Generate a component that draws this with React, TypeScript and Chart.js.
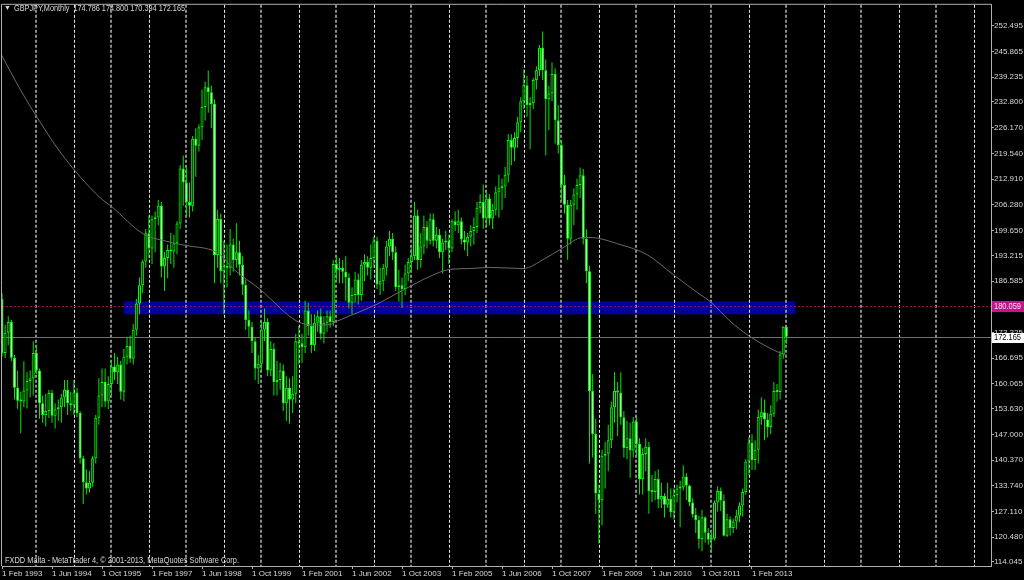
import React, { useEffect, useRef } from "react";
import { Chart, registerables } from "chart.js";

Chart.register(...registerables);

// ---- DATA (GBPJPY monthly, first bar = Feb 1993, index 0) ----
const opens = [
  182, 168, 173.2, 176, 166.8, 159, 155.7, 155.5, 158.3, 160.8, 161.5,
  168, 163.5, 155, 152, 153, 157.7, 151.8, 153.5, 154, 156.5, 158.5, 155,
  154.5, 157.8, 152.5, 140.8, 134.6, 133, 134.5, 140.8, 151.3, 157, 160.5, 155.5,
  160, 164.5, 163, 165, 158, 167, 169.8, 166.5, 174, 180.8, 185.5, 191.6,
  198.9, 195, 202.5, 203, 206, 190.3, 192.5, 194.6, 194.2, 196.3, 201.4, 215.6,
  212, 207, 206, 223.3, 221.5, 226.3, 231.5, 236.6, 235.3, 232.3, 193.3, 202.6,
  189.1, 190.5, 190, 196, 192, 194, 190.8, 185.6, 176.5, 174.8, 171, 164,
  165.2, 174, 176, 163.5, 169, 160.5, 161, 163.5, 155, 159, 156, 157.5,
  171, 170.5, 169.5, 179, 175, 170, 175.8, 177.5, 173, 175.8, 177.5, 176,
  191, 189.5, 190, 189, 187.5, 181, 183, 187, 183, 190.8, 191.5, 190,
  192.5, 197, 185.7, 186.5, 190, 195.5, 197.5, 194, 185, 185.5, 184.5, 188.5,
  191.5, 193, 203.5, 192, 195.5, 200.5, 197, 202.5, 197, 198.5, 194, 196.5,
  197, 195, 202, 201, 202, 197.3, 196.5, 198, 199.5, 200.5, 205.5, 207,
  202.7, 207.9, 202.7, 205, 209.5, 210.5, 211, 214, 223, 221, 223.5, 227.6,
  233, 237.1, 232, 232.5, 238.5, 241, 246.8, 241, 233.5, 235, 240, 228.1,
  221.7, 211.4, 206.3, 197.5, 206.3, 208.9, 211.4, 213.9, 197.5, 189.1, 158.2, 147.1,
  131.7, 130, 141.5, 142, 145.5, 154, 158.2, 157.8, 151.4, 143.5, 146, 142.8,
  150.3, 144.5, 135.5, 141.9, 143.8, 132.4, 132.1, 135.5, 130.2, 131.1, 128.8, 130.4,
  126.9, 131.3, 133, 133.3, 136.1, 133.8, 129.4, 126.3, 124.9, 120, 125.6, 121.6,
  119.8, 120.1, 129.4, 132.4, 129.9, 120.8, 125.1, 122.8, 124.5, 126, 128.6, 132.1,
  140, 144.9, 140.4, 143, 151.5, 152.7, 150.8, 148.9, 152.3, 158.2, 157.9, 167.6,
  174.786,
];
const highs = [
  183.5, 175.3, 177.5, 176.5, 167.5, 163.4, 158, 165.9, 163, 163.5, 171,
  170, 164, 157, 157.5, 158.5, 158.5, 155, 156, 157.5, 161, 161, 158,
  161, 159, 153, 141.5, 138, 137.5, 141.5, 152, 161.5, 164, 164, 162,
  166, 168, 167, 166, 169, 172, 172.5, 175.5, 182, 187.5, 192.1, 200,
  203.5, 203.5, 204.5, 207.5, 207, 194, 196, 199, 198.5, 202, 216.5, 219,
  216, 212, 224, 226, 227, 236, 238, 240.9, 237, 233.5, 205, 204,
  197, 196, 200, 197.5, 201.5, 197, 193, 187, 179, 176, 172, 167.5,
  176, 179.5, 177, 171, 170.5, 166, 165.5, 165, 162, 161.5, 162, 173,
  175, 173, 181.5, 181, 178, 178, 179, 179.5, 177.5, 179, 179, 192,
  193, 192.5, 192, 193, 188.5, 185, 189, 188.5, 192, 193.5, 193, 196,
  198, 198, 190, 191, 197, 199.5, 199, 195.5, 189.5, 187.5, 190.8, 192.5,
  195, 207, 205, 199, 203.5, 202, 204, 204, 200.5, 200, 197.5, 199.5,
  198.5, 202.5, 204.5, 205, 203, 199.5, 199, 201, 203, 207, 209, 211.5,
  209.5, 209, 206.5, 211, 214, 213, 216, 224.5, 224.5, 225, 229, 234,
  241.2, 239.5, 234, 239, 242, 247.5, 251, 243.8, 237, 243, 241.5, 232,
  223, 214, 207.5, 207.5, 210.5, 213, 215.9, 215.5, 200, 190.5, 162.5, 151,
  134, 143, 145, 149.5, 155.5, 163, 160.5, 163, 153, 150.5, 150, 151.5,
  151.5, 146, 143.5, 146, 145, 136.5, 137.5, 138, 134.5, 131.8, 134.5, 133,
  133, 134, 135, 139, 137, 134, 130.5, 128, 126, 127.5, 125.8, 122.8,
  121.5, 130, 133.6, 133.3, 131.5, 126.5, 125.8, 125.2, 127.5, 129.5, 133, 140.5,
  146.3, 147, 145.5, 153.4, 156.5, 156, 152.5, 154.5, 160.5, 160, 168.5, 174.9,
  174.8,
];
const lows = [
  167, 166.7, 170, 165.9, 156, 153.6, 147.3, 154, 153.7, 156.5, 157,
  162.5, 151, 150, 149, 151.2, 150, 148.5, 150.5, 150, 154, 152, 153,
  152, 151.5, 139.5, 129, 131.5, 132, 133.5, 139.5, 149.5, 154, 154, 153.5,
  157, 161, 160, 156, 155.5, 165, 165.5, 165, 172.5, 178, 183.5, 190,
  192.5, 191, 194, 201, 187.5, 184, 187.3, 191, 190, 193.5, 200, 206,
  203.4, 203, 204.5, 213.5, 220, 223, 228, 230, 226, 186, 190, 186,
  178, 185, 188, 189, 190, 188, 183, 174, 172, 168, 161, 160,
  163, 171, 162, 162, 157, 157, 158.5, 153, 150.5, 149.8, 152.5, 155,
  165, 165.5, 168, 172.5, 168, 168.5, 173.5, 171.5, 170.5, 173.5, 174.5, 175,
  187, 186, 186, 181.5, 179.5, 178, 181, 180.5, 181.5, 186.5, 188, 187,
  190, 184.5, 183, 184, 188, 193, 192, 184, 181.3, 179.6, 183, 186.5,
  189, 192, 189.5, 190, 193.5, 195, 196, 195.5, 195, 192.5, 188.5, 194.5,
  191, 194, 199.5, 199, 196, 194.5, 193, 195.5, 196, 199, 204, 200.1,
  200.5, 201, 200, 203.5, 203, 205, 208, 212, 216.5, 217.5, 221, 225,
  231, 229, 220.6, 231, 236, 239.5, 238.5, 219, 225.5, 233, 222, 219.5,
  207.5, 204, 192.1, 196, 201, 205, 208, 196, 186, 139.5, 141, 126.5,
  118.8, 123.5, 133, 137.5, 143.5, 150, 146.5, 149.5, 141, 140.5, 135.8, 141,
  141.5, 131.5, 131.5, 137.5, 126.5, 129.5, 130, 128, 128, 125.5, 128, 125.5,
  125, 129.5, 123, 132.5, 130, 128.5, 125.5, 121.5, 117.5, 116.8, 119, 118.5,
  116.9, 119.6, 127, 127.2, 120.6, 120.5, 120.8, 121.5, 122.5, 124.3, 125.8, 131.5,
  136.5, 137.8, 137.8, 139.5, 149.5, 145.5, 146.2, 147, 151.5, 155.5, 156, 166.5,
  170.394,
];
const closes = [
  168, 173.2, 176, 166.8, 159, 155.7, 155.5, 158.3, 160.8, 161.5, 168,
  163.5, 155, 152, 153, 157.7, 151.8, 153.5, 154, 156.5, 158.5, 155, 154.5,
  157.8, 152.5, 140.8, 134.6, 133, 134.5, 140.8, 151.3, 157, 160.5, 155.5, 160,
  164.5, 163, 165, 158, 167, 169.8, 166.5, 174, 180.8, 185.5, 191.6, 198.9,
  195, 202.5, 203, 206, 190.3, 192.5, 194.6, 194.2, 196.3, 201.4, 215.6, 212,
  207, 206, 223.3, 221.5, 226.3, 231.5, 236.6, 235.3, 232.3, 193.3, 202.6, 189.1,
  190.5, 190, 196, 192, 194, 190.8, 185.6, 176.5, 174.8, 171, 164, 165.2,
  174, 176, 163.5, 169, 160.5, 161, 163.5, 155, 159, 156, 157.5, 171,
  170.5, 169.5, 179, 175, 170, 175.8, 177.5, 173, 175.8, 177.5, 176, 191,
  189.5, 190, 189, 187.5, 181, 183, 187, 183, 190.8, 191.5, 190, 192.5,
  197, 185.7, 186.5, 190, 195.5, 197.5, 194, 185, 185.5, 184.5, 188.5, 191.5,
  193, 203.5, 192, 195.5, 200.5, 197, 202.5, 197, 198.5, 194, 196.5, 197,
  195, 202, 201, 202, 197.3, 196.5, 198, 199.5, 200.5, 205.5, 207, 202.7,
  207.9, 202.7, 205, 209.5, 210.5, 211, 214, 223, 221, 223.5, 227.6, 233,
  237.1, 232, 232.5, 238.5, 241, 246.8, 241, 233.5, 235, 240, 228.1, 221.7,
  211.4, 206.3, 197.5, 206.3, 208.9, 211.4, 213.9, 197.5, 189.1, 158.2, 147.1, 131.7,
  130, 141.5, 142, 145.5, 154, 158.2, 157.8, 151.4, 143.5, 146, 142.8, 150.3,
  144.5, 135.5, 141.9, 143.8, 132.4, 132.1, 135.5, 130.2, 131.1, 128.8, 130.4, 126.9,
  131.3, 133, 133.3, 136.1, 133.8, 129.4, 126.3, 124.9, 120, 125.6, 121.6, 119.8,
  120.1, 129.4, 132.4, 129.9, 120.8, 125.1, 122.8, 124.5, 126, 128.6, 132.1, 140,
  144.9, 140.4, 143, 151.5, 152.7, 150.8, 148.9, 152.3, 158.2, 157.9, 167.6, 174.8,
  172.165,
];

// moving average, bar index -> price
const maIndex = [-0.6, 6, 12.2, 18.6, 25, 31.4, 35.2, 45.1, 52.8, 59.2, 66.6, 69.8, 73.9, 82.6, 94.4, 100.2, 105, 107.2, 120, 126.4, 130.6, 137, 143.4, 149.8, 156.2, 166.7, 173.8, 179.2, 185.9, 188.2, 197.8, 206.4, 214.7, 223.4, 226.6, 233, 238.7, 249, 251];
const maValue = [245.6, 235.8, 227.6, 219.9, 213.5, 208.1, 205.7, 198.8, 196.8, 195.7, 194.7, 193.4, 189.8, 184.4, 176.2, 175.2, 175.4, 176.2, 180.6, 183.4, 185.2, 187.8, 189.6, 189.8, 190.1, 189.8, 192.4, 195.0, 197.8, 197.8, 196.0, 193.4, 188.3, 183.1, 181.3, 176.2, 172.6, 168.0, 167.5];

const xTickIndex = [0, 16, 32, 48, 64, 80, 96, 112, 128, 144, 160, 176, 192, 208, 224, 240];
const xTickLabels = ["1 Feb 1993", "1 Jun 1994", "1 Oct 1995", "1 Feb 1997", "1 Jun 1998", "1 Oct 1999", "1 Feb 2001", "1 Jun 2002", "1 Oct 2003", "1 Feb 2005", "1 Jun 2006", "1 Oct 2007", "1 Feb 2009", "1 Jun 2010", "1 Oct 2011", "1 Feb 2013"];
const yTickValues = [252.495, 245.865, 239.235, 232.8, 226.17, 219.54, 212.91, 206.28, 199.65, 193.215, 186.585, 179.955, 173.325, 166.695, 160.065, 153.63, 147.0, 140.37, 133.74, 127.11, 120.48, 114.045];
const yTickLabels = ["252.495", "245.865", "239.235", "232.800", "226.170", "219.540", "212.910", "206.280", "199.650", "193.215", "186.585", "179.955", "173.325", "166.695", "160.065", "153.630", "147.000", "140.370", "133.740", "127.110", "120.480", "114.045"];

const firstJanuaryIndex = 11; // Jan 1994
const zoneStartIndex = 39;
const zoneEndIndex = 253.8;
const zoneTop = 181.35;
const zoneBottom = 178.0;
const levelLine = 180.059;
const bidLine = 172.165;
const titleText = "GBPJPY,Monthly  174.786 174.800 170.394 172.165";
const footerText = "FXDD Malta - MetaTrader 4, \u00A9 2001-2013, MetaQuotes Software Corp.";

const FONT = '"Liberation Sans", Arial, sans-serif';
const LIME = "#00ff00";
const TEXT = "#d8d8d8";

function fitText(ctx: CanvasRenderingContext2D, text: string, x: number, y: number, width: number) {
  const w = ctx.measureText(text).width;
  ctx.save();
  ctx.translate(x, y);
  ctx.scale(width / w, 1);
  ctx.fillText(text, 0, 0);
  ctx.restore();
}

export default function App() {
  const ref = useRef<HTMLCanvasElement | null>(null);

  useEffect(() => {
    if (!ref.current) return;
    document.body.style.margin = "0";
    document.body.style.background = "#000";

    const wickData = highs.map((h, i) => ({ x: i, y: [lows[i], h] }));
    const bodyData = opens.map((o, i) => ({ x: i, y: [o, closes[i]] }));
    const bodyColors = opens.map((o, i) => (closes[i] < o ? "#c8ffc8" : "#003000"));
    const maData = maIndex.map((x, i) => ({ x, y: maValue[i] }));

    const overlay = {
      id: "overlay",
      beforeDatasetsDraw(chart: any) {
        const { ctx, chartArea: ca, scales } = chart;
        const xs = scales.x, ys = scales.y;
        ctx.save();
        ctx.beginPath();
        ctx.rect(ca.left, ca.top, ca.right - ca.left, ca.bottom - ca.top);
        ctx.clip();
        // zone rectangle
        const zx0 = xs.getPixelForValue(zoneStartIndex);
        const zx1 = xs.getPixelForValue(zoneEndIndex);
        const zy0 = ys.getPixelForValue(zoneTop);
        const zy1 = ys.getPixelForValue(zoneBottom);
        ctx.fillStyle = "#00009c";
        ctx.fillRect(zx0, zy0, zx1 - zx0, zy1 - zy0);
        // yearly dashed grid
        ctx.setLineDash([3, 2]);
        let k = 0;
        for (let i = firstJanuaryIndex; xs.getPixelForValue(i) < ca.right; i += 12, k++) {
          const px = xs.getPixelForValue(i);
          ctx.beginPath();
          if (k % 2 === 0) {
            ctx.strokeStyle = "#8a8a8a";
            ctx.lineWidth = 2;
            ctx.moveTo(Math.round(px), ca.top);
            ctx.lineTo(Math.round(px), ca.bottom);
          } else {
            ctx.strokeStyle = "#e8e8e8";
            ctx.lineWidth = 1;
            ctx.moveTo(Math.round(px) + 0.5, ca.top);
            ctx.lineTo(Math.round(px) + 0.5, ca.bottom);
          }
          ctx.stroke();
        }
        // level line (dotted magenta)
        ctx.setLineDash([2, 2]);
        ctx.lineWidth = 1;
        ctx.strokeStyle = "#8a0a70";
        const ly = Math.round(ys.getPixelForValue(levelLine)) + 0.5;
        ctx.beginPath();
        ctx.moveTo(ca.left, ly);
        ctx.lineTo(ca.right, ly);
        ctx.stroke();
        // bid line
        ctx.setLineDash([]);
        ctx.strokeStyle = "#707070";
        const by = Math.round(ys.getPixelForValue(bidLine)) + 0.5;
        ctx.beginPath();
        ctx.moveTo(ca.left, by);
        ctx.lineTo(ca.right, by);
        ctx.stroke();
        ctx.restore();
      },
      afterDraw(chart: any) {
        const { ctx, chartArea: ca, scales } = chart;
        const ys = scales.y;
        ctx.save();
        // frame top / left
        ctx.strokeStyle = "#b0b0b0";
        ctx.lineWidth = 1;
        ctx.beginPath();
        ctx.moveTo(ca.left - 0.5, ca.bottom);
        ctx.lineTo(ca.left - 0.5, ca.top - 0.5);
        ctx.lineTo(ca.right, ca.top - 0.5);
        ctx.stroke();
        // price boxes
        ctx.font = `9px ${FONT}`;
        ctx.textBaseline = "middle";
        ctx.textAlign = "left";
        const ly = Math.round(ys.getPixelForValue(levelLine));
        ctx.fillStyle = "#c8148c";
        ctx.fillRect(ca.right + 1, ly - 5, 40, 11);
        ctx.fillStyle = "#f0e0ec";
        fitText(ctx, "180.059", ca.right + 3, ly + 0.5, 27);
        const by = Math.round(ys.getPixelForValue(bidLine));
        ctx.fillStyle = "#ffffff";
        ctx.fillRect(ca.right + 1, by - 4, 40, 10);
        ctx.fillStyle = "#000000";
        fitText(ctx, "172.165", ca.right + 3, by + 1, 27);
        // title
        ctx.fillStyle = TEXT;
        ctx.font = `7px ${FONT}`;
        ctx.fillText("\u25BC", 4, 8);
        ctx.font = `9px ${FONT}`;
        fitText(ctx, titleText, 14, 8.5, 171);
        fitText(ctx, footerText, 5, 560.5, 234);
        ctx.restore();
      },
    };

    const chart = new Chart(ref.current, {
      type: "bar",
      data: {
        datasets: [
          {
            type: "bar",
            data: wickData as any,
            backgroundColor: "#00e600",
            borderWidth: 0,
            barThickness: 1,
            grouped: false,
            inflateAmount: 0,
            minBarLength: 1,
            order: 3,
          } as any,
          {
            type: "bar",
            data: bodyData as any,
            backgroundColor: bodyColors,
            borderColor: LIME,
            borderWidth: 1,
            borderSkipped: false,
            barThickness: 3,
            grouped: false,
            inflateAmount: 0,
            minBarLength: 2,
            order: 2,
          } as any,
          {
            type: "line",
            data: maData as any,
            borderColor: "#6a6a6a",
            borderWidth: 1,
            pointRadius: 0,
            cubicInterpolationMode: "monotone",
            order: 1,
          } as any,
        ],
      },
      options: {
        animation: false,
        responsive: false,
        devicePixelRatio: 1,
        layout: { padding: { left: 2, top: 2, right: 0, bottom: 0 } },
        plugins: { legend: { display: false }, tooltip: { enabled: false } },
        scales: {
          x: {
            type: "linear",
            min: 0,
            max: 989 / 3.125,
            offset: false,
            grid: { display: true, offset: false, drawOnChartArea: false, drawTicks: true, tickLength: 3, color: "#b0b0b0" },
            border: { display: true, color: "#b0b0b0" },
            ticks: {
              align: "start",
              color: TEXT,
              font: { family: FONT, size: 8 },
              padding: 0,
              maxRotation: 0,
              autoSkip: false,
              callback: (v: any) => {
                const k = xTickIndex.indexOf(Number(v));
                return k >= 0 ? xTickLabels[k] : "";
              },
            },
            afterBuildTicks: (s: any) => {
              s.ticks = xTickIndex.map((v) => ({ value: v }));
            },
            afterFit: (s: any) => {
              s.height = 14;
            },
          } as any,
          y: {
            type: "linear",
            position: "right",
            min: 113.01,
            max: 257.89,
            grid: { display: true, drawOnChartArea: false, drawTicks: true, tickLength: 3, color: "#b0b0b0" },
            border: { display: true, color: "#b0b0b0" },
            ticks: {
              color: TEXT,
              font: { family: FONT, size: 8 },
              padding: 0,
              autoSkip: false,
              callback: (_v: any, idx: number) => yTickLabels[idx],
            },
            afterBuildTicks: (s: any) => {
              s.ticks = yTickValues.map((v) => ({ value: v }));
            },
            afterFit: (s: any) => {
              s.width = 33;
            },
          } as any,
        },
      },
      plugins: [overlay],
    });

    return () => chart.destroy();
  }, []);

  return (
    <div style={{ position: "fixed", left: 0, top: 0, width: 1024, height: 580, background: "#000" }}>
      <canvas ref={ref} width={1024} height={580} style={{ display: "block", width: 1024, height: 580 }} />
    </div>
  );
}
